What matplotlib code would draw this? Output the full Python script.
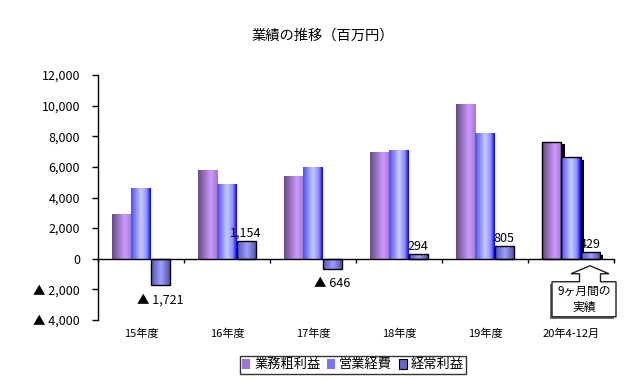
import matplotlib
matplotlib.use("Agg")
import matplotlib.pyplot as plt
import numpy as np
from matplotlib.colors import LinearSegmentedColormap
from matplotlib.patches import Polygon, Rectangle, Patch
from matplotlib.transforms import blended_transform_factory

plt.rcParams['font.family'] = ['Noto Sans CJK JP', 'DejaVu Sans']

title = "業績の推移（百万円）"
categories = ["15年度", "16年度", "17年度", "18年度", "19年度", "20年4-12月"]
series_names = ["業務粗利益", "営業経費", "経常利益"]
gross_profit = [2900, 5800, 5400, 7000, 10100, 7650]
operating_exp = [4600, 4900, 6000, 7100, 8200, 6650]
ordinary_profit = [-1721, 1154, -646, 294, 805, 429]
yticks = [-4000, -2000, 0, 2000, 4000, 6000, 8000, 10000, 12000]
callout_text = "9ヶ月間の\n実績"

def fmt(v):
    return ("▲ " if v < 0 else "") + f"{abs(v):,}"

cmaps = [
    LinearSegmentedColormap.from_list("p", [(0, (0.40, 0.30, 0.52)), (0.65, (0.80, 0.60, 1.0)), (1, (0.62, 0.47, 0.80))]),
    LinearSegmentedColormap.from_list("b", [(0, (0.30, 0.30, 1.0)), (0.5, (0.78, 0.80, 1.0)), (0.8, (0.55, 0.55, 1.0)), (1, (0.0, 0.0, 1.0))]),
    LinearSegmentedColormap.from_list("d", [(0, (0.33, 0.33, 0.70)), (0.5, (0.62, 0.62, 1.0)), (1, (0.30, 0.30, 0.62))]),
]
legend_colors = [(0.62, 0.45, 0.85), (0.45, 0.45, 1.0), (0.40, 0.40, 0.80)]

fig = plt.figure(figsize=(6.3, 3.8), dpi=100)
ax = fig.add_axes([98/630, 1-320/380, (614-98)/630, (320-75)/380])

n = len(categories)
x = np.arange(n) + 0.5
w = 0.221
series = [gross_profit, operating_exp, ordinary_profit]
grad = np.linspace(0, 1, 64).reshape(1, -1)
ax.set_xlim(0, n)
ax.set_ylim(-4000, 12000)

for si, vals in enumerate(series):
    xs = x + (si - 1) * w
    for ci, (xc, v) in enumerate(zip(xs, vals)):
        last = ci == n - 1
        edge = si == 2 or last
        if last:
            sh = Rectangle((xc - w/2 + 0.035, 0), w, v - 180, facecolor='black', edgecolor='none', zorder=1.5)
            ax.add_patch(sh)
        r = Rectangle((xc - w/2, 0), w, v, facecolor='none',
                      edgecolor='black' if edge else 'none', linewidth=1.0, zorder=3)
        ax.add_patch(r)
        im = ax.imshow(grad, cmap=cmaps[si], extent=[xc - w/2, xc + w/2, min(0, v), max(0, v)],
                       aspect='auto', zorder=2, interpolation='bilinear')
        im.set_clip_path(r)
        if si == 2:
            if v < 0:
                ax.annotate(fmt(v), (xc, v), xytext=(0, -6), textcoords='offset points',
                            ha='center', va='top', fontsize=9)
            else:
                ax.annotate(fmt(v), (xc, v), xytext=(0, 1), textcoords='offset points',
                            ha='center', va='bottom', fontsize=9)

ax.set_xlim(0, n)
ax.set_ylim(-4000, 12000)

for s in ['top', 'right']:
    ax.spines[s].set_visible(False)
ax.spines['bottom'].set_position(('data', 0))
ax.spines['left'].set_linewidth(1.0)
ax.spines['bottom'].set_linewidth(1.0)
ax.set_xticks(np.arange(n + 1))
ax.set_xticklabels([])
ax.tick_params(axis='x', direction='out', length=3, width=1)
ax.set_yticks(yticks)
ax.set_yticklabels([fmt(v) for v in yticks], fontsize=9)
ax.tick_params(axis='y', direction='out', length=4, width=1, pad=9)

tr = blended_transform_factory(ax.transData, ax.transAxes)
for xc, c in zip(x, categories):
    ax.text(xc, -0.035, c, transform=tr, ha='center', va='top', fontsize=8)

# callout (arrow-shaped box under last ordinary profit bar), sizes in pixels
cx = x[-1] + w
dtx = 1 / 86.0
dty = 16000 / 245.0
y_tip, y_head, y_top, y_bot = -457, -980, -1502, -3790
pts = [(cx - 19*dtx, y_head), (cx, y_tip), (cx + 19*dtx, y_head), (cx + 10.5*dtx, y_head),
       (cx + 10.5*dtx, y_top), (cx + 26*dtx, y_top), (cx + 26*dtx, y_bot),
       (cx - 38*dtx, y_bot), (cx - 38*dtx, y_top), (cx - 10.5*dtx, y_top),
       (cx - 10.5*dtx, y_head)]
box_shadow = Polygon([(cx - 38*dtx - 2*dtx, y_top - 2*dty), (cx + 26*dtx - 2*dtx, y_top - 2*dty),
                      (cx + 26*dtx - 2*dtx, y_bot - 2*dty), (cx - 38*dtx - 2*dtx, y_bot - 2*dty)],
                     closed=True, facecolor='#707070', edgecolor='none', zorder=4, clip_on=False)
ax.add_patch(box_shadow)
ax.add_patch(Polygon(pts, closed=True, facecolor='white', edgecolor='#202020', linewidth=1.0,
                     zorder=5, clip_on=False))
ax.text(cx - 6*dtx, (y_top + y_bot) / 2, callout_text, ha='center', va='center', fontsize=8.5,
        zorder=6, linespacing=1.25)

fig.text(323/630, 1 - 36/380, title, ha='center', va='center', fontsize=10.3)

handles = [Patch(facecolor=c, edgecolor='black' if i == 2 else 'none', linewidth=0.8) for i, c in enumerate(legend_colors)]
leg = fig.legend(handles, series_names, loc='lower center', bbox_to_anchor=(353/630, 6/380),
                 ncol=3, fontsize=9.5, frameon=True, fancybox=False, edgecolor='black',
                 handlelength=0.6, handleheight=0.8, handletextpad=0.3, columnspacing=0.5,
                 borderpad=0.2, borderaxespad=0)
leg.get_frame().set_linewidth(1.0)

fig.savefig("out.png", dpi=100)
